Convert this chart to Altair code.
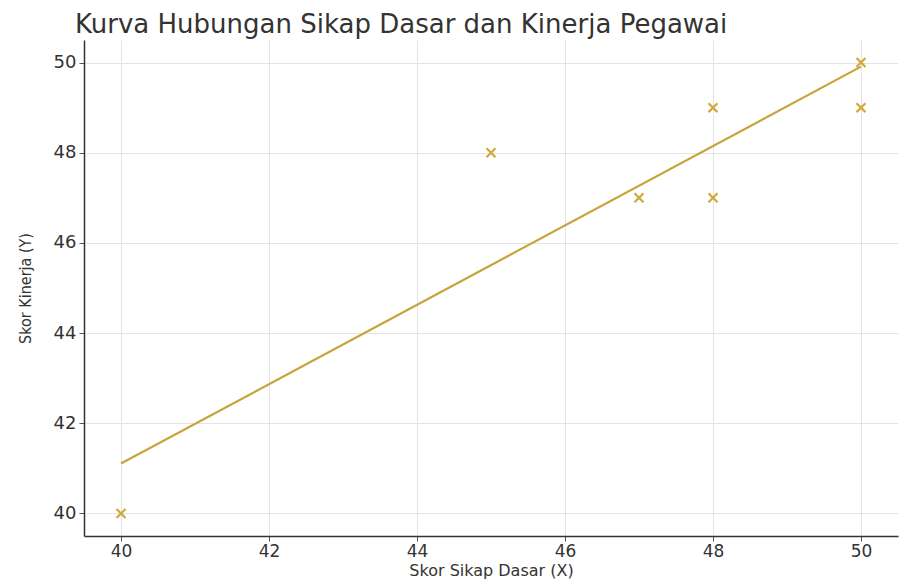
import altair as alt
import pandas as pd

sikap = [40, 45, 47, 48, 48, 50, 50]
kinerja = [40, 48, 47, 49, 47, 50, 49]
ticks = [40, 42, 44, 46, 48, 50]

df = pd.DataFrame({"x": sikap, "y": kinerja})

color = "#d1a83c"
line_color = "#c9a43c"

xs = alt.Scale(domain=[39.5, 50.5], nice=False, zero=False)
ys = alt.Scale(domain=[39.5, 50.5], nice=False, zero=False)

xax = alt.Axis(values=ticks, title="Skor Sikap Dasar (X)", format="d", labelFontSize=17)
yax = alt.Axis(values=ticks, title="Skor Kinerja (Y)", format="d")

base = alt.Chart(df)

points = base.mark_point(
    shape="M-1,-1L1,1M-1,1L1,-1", size=80, strokeWidth=2.2, color=color, opacity=1
).encode(
    x=alt.X("x:Q", scale=xs, axis=xax),
    y=alt.Y("y:Q", scale=ys, axis=yax),
)

line = base.transform_regression("x", "y", method="linear").mark_line(
    color=line_color, strokeWidth=2.2
).encode(
    x=alt.X("x:Q", scale=xs),
    y=alt.Y("y:Q", scale=ys),
)

chart = (
    alt.layer(line, points)
    .properties(
        width=814,
        height=496,
        autosize=alt.AutoSizeParams(type="none"),
        padding={"left": 76, "top": 32, "right": 5, "bottom": 45},
        title=alt.TitleParams(
            "Kurva Hubungan Sikap Dasar dan Kinerja Pegawai",
            fontSize=26,
            font="DejaVu Sans",
            fontWeight="normal",
            color="#333333",
            anchor="start",
            frame="group",
            dx=-9,
            offset=2,
        ),
    )
    .configure_view(stroke=None)
    .configure_axis(
        grid=True,
        gridColor="#e4e4e4",
        gridWidth=1,
        domainColor="#333333",
        domainWidth=1.5,
        tickColor="#555555",
        tickSize=5,
        labelPadding=3,
        labelFont="DejaVu Sans",
        labelFontSize=18,
        labelColor="#333333",
        titleFont="DejaVu Sans",
        titleFontWeight="normal",
        titleColor="#333333",
        titleFontSize=16,
    )
    .configure_axisY(titleFont="DejaVu Sans Condensed", titleFontSize=16, titlePadding=20)
    .configure_axisX(titlePadding=3, labelPadding=2)
)

chart.save("out.html", embed_options={"renderer": "svg", "actions": False})
